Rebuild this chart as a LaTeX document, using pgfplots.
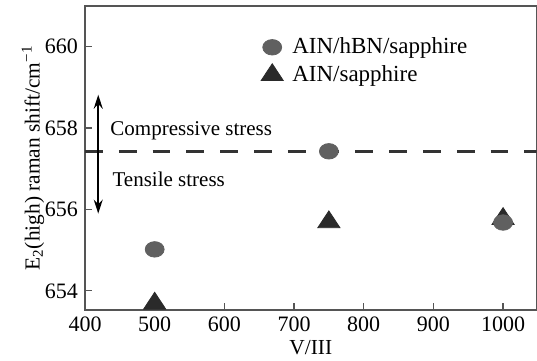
\documentclass[border=0pt]{standalone}
\usepackage{pgfplots}
\pgfplotsset{compat=1.18}
\usepackage{fontspec}
\setmainfont{Liberation Serif}
\usetikzlibrary{arrows.meta}
\definecolor{circcol}{HTML}{606060}
\definecolor{tricol}{HTML}{2A2A2A}
\definecolor{axcol}{HTML}{555555}
\begin{document}
\begin{tikzpicture}
\begin{axis}[
  name=ax,
  scale only axis,
  width=225.75pt, height=152pt,
  xmin=400, xmax=1048,
  ymin=653.53, ymax=661.0,
  xtick={400,500,...,1000},
  ytick={654,656,658,660},
  tick pos=left,
  tick align=inside,
  major tick length=3.3pt,
  axis line style={axcol, line width=0.6pt},
  every tick/.style={axcol, line width=0.6pt},
  /pgf/number format/assume math mode=true,
  /pgf/number format/1000 sep={},
  ticklabel style={font=\fontsize{11}{13}\selectfont},
  label style={font=\fontsize{10.7}{13}\selectfont},
  xlabel={V/III},
  xlabel style={yshift=2.5pt},
  ylabel={E\textsubscript{2}(high) raman shift/cm\textsuperscript{−1}},
  ylabel style={yshift=-6.5pt},
  legend cell align=left,
  reverse legend,
  legend style={draw=none, fill=none, font=\fontsize{11.5}{13}\selectfont,
    at={(0.376,0.923)}, anchor=north west, row sep=0.35pt, column sep=2.5pt},
]
\addplot[only marks, mark=triangle*, mark size=5.6pt, mark options={xscale=1.14, fill=tricol, draw=tricol}]
  coordinates {(500,653.69) (750,655.69) (1000,655.77)};
\addlegendentry{AIN/sapphire}
\addplot[only marks, mark=*, mark size=4.3pt, mark options={xscale=1.1, yscale=0.9, fill=circcol, draw=circcol}]
  coordinates {(500,655.02) (750,657.43) (1000,655.68)};
\addlegendentry{AIN/hBN/sapphire}
\draw[color=black!80, line width=1.3pt, dash pattern=on 8.9pt off 8pt] (axis cs:400,657.43) -- (axis cs:1048,657.43);
\draw[black, line width=0.8pt, {Stealth[length=7pt,width=4.5pt]}-{Stealth[length=7pt,width=4.5pt]}] (axis cs:419,658.82) -- (axis cs:419,655.9);
\node[anchor=base west, inner sep=0pt, font=\fontsize{10.5}{12}\selectfont] at (axis cs:436,657.81) {Compressive stress};
\node[anchor=base west, inner sep=0pt, font=\fontsize{10.5}{12}\selectfont] at (axis cs:439,656.57) {Tensile stress};
\end{axis}
\pgfresetboundingbox
\path (ax.south west) ++(-42.5pt,-25pt) coordinate (bl);
\path (ax.north east) ++(0.25pt,3pt) coordinate (tr);
\path[use as bounding box] (bl) rectangle (tr);
\end{tikzpicture}
\end{document}
